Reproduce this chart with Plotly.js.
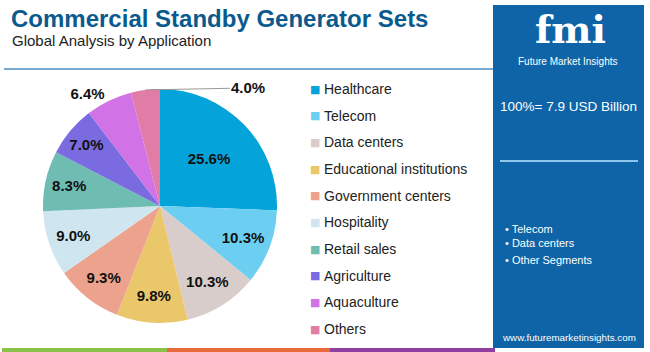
<!DOCTYPE html>
<html>
<head>
<meta charset="utf-8">
<script src="https://cdn.plot.ly/plotly-3.0.1.min.js"></script>
<style>
html,body{margin:0;padding:0;background:#fff;}
#chart{width:650px;height:352px;}
</style>
</head>
<body>
<div id="chart"></div>
<script>
// ---- data ----
const categories = ["Healthcare","Telecom","Data centers","Educational institutions","Government centers","Hospitality","Retail sales","Agriculture","Aquaculture","Others"];
const shares = [25.6, 10.3, 10.3, 9.8, 9.3, 9.0, 8.3, 7.0, 6.4, 4.0];
const colors = ["#04a3d9","#6ccff2","#d8cdca","#ebc76c","#eca28c","#cfe6f0","#6fbcb2","#7a6be0","#d172e6","#e17ca6"];
const totalLabel = "100%= 7.9 USD Billion";
const keySegments = ["Telecom","Data centers","Other Segments"];

const W = 650, H = 352;
const px = x => x / W;
const py = y => 1 - y / H;

// pie geometry (pixels)
const cx = 160, cy = 206, R = 117;

const textpos = shares.map((v, i) => i === shares.length - 1 ? "none" : (i === shares.length - 2 ? "outside" : "inside"));
const labelFont = {family: "Arial, Liberation Sans, sans-serif", size: 15, color: "#111", weight: "bold"};

const trace = {
  type: "pie",
  labels: categories,
  values: shares,
  sort: false,
  direction: "clockwise",
  rotation: 0,
  marker: {colors: colors, line: {color: "#ffffff", width: 0}},
  texttemplate: shares.map(v => v.toFixed(1) + "%"),
  textposition: textpos,
  insidetextorientation: "horizontal",
  textfont: labelFont,
  outsidetextfont: labelFont,
  showlegend: false,
  hoverinfo: "label+percent",
  domain: {x: [px(cx - R), px(cx + R)], y: [py(cy + R), py(cy - R)]}
};

const annotations = [];
const shapes = [];

// subtitle
annotations.push({xref: "paper", yref: "paper", x: px(10), y: py(40), xanchor: "left", yanchor: "middle",
  text: "Global Analysis by Application", showarrow: false,
  font: {family: "Arial, Liberation Sans, sans-serif", size: 15, color: "#222"}});

// outside label with leader line for last slice (position derived from data)
const total = shares.reduce((a, b) => a + b, 0);
let cum = 0;
shares.forEach((v, i) => {
  const mid = (cum + v / 2) / total;
  cum += v;
  if (i === shares.length - 1) {
    const ang = mid * 2 * Math.PI;
    const ex = cx + R * Math.sin(ang);
    const ey = cy - R * Math.cos(ang);
    annotations.push({xref: "paper", yref: "paper", x: px(ex), y: py(ey),
      text: "<b>" + v.toFixed(1) + "%</b>", showarrow: true, arrowhead: 0, arrowwidth: 1, arrowcolor: "#999",
      ax: 103, ay: -2, standoff: 0,
      font: labelFont});
  }
});

// legend (built from data)
categories.forEach((c, i) => {
  const y = 89 + i * 26.67;
  annotations.push({xref: "paper", yref: "paper", x: px(315), y: py(y), xanchor: "center", yanchor: "middle",
    text: "■", showarrow: false, font: {family: "DejaVu Sans", size: 11, color: colors[i]}});
  annotations.push({xref: "paper", yref: "paper", x: px(322), y: py(y), xanchor: "left", yanchor: "middle",
    text: c, showarrow: false, font: {family: "Arial, Liberation Sans, sans-serif", size: 14, color: "#222"}});
});

// divider line under title
shapes.push({type: "line", xref: "paper", yref: "paper", x0: px(4), x1: px(493), y0: py(69), y1: py(69),
  line: {color: "#4a8fc2", width: 1.5}});

// right panel
shapes.push({type: "rect", xref: "paper", yref: "paper", x0: px(493), x1: px(644), y0: py(348), y1: py(5),
  fillcolor: "#0e64a6", line: {width: 0}, layer: "below"});
shapes.push({type: "line", xref: "paper", yref: "paper", x0: px(500), x1: px(638), y0: py(161), y1: py(161),
  line: {color: "#8fc6ec", width: 2}});

// bottom strip
shapes.push({type: "rect", xref: "paper", yref: "paper", x0: px(2), x1: px(167), y0: py(352), y1: py(348), fillcolor: "#8bc34a", line: {width: 0}});
shapes.push({type: "rect", xref: "paper", yref: "paper", x0: px(167), x1: px(330), y0: py(352), y1: py(348), fillcolor: "#e8693a", line: {width: 0}});
shapes.push({type: "rect", xref: "paper", yref: "paper", x0: px(330), x1: px(495), y0: py(352), y1: py(348), fillcolor: "#8e3fa0", line: {width: 0}});

// panel texts
annotations.push({xref: "paper", yref: "paper", x: px(570), y: py(30), xanchor: "center", yanchor: "middle",
  text: "<b>fmi</b>", showarrow: false, font: {family: "DejaVu Serif", size: 38, color: "#ffffff"}});
annotations.push({xref: "paper", yref: "paper", x: px(567), y: py(61), xanchor: "center", yanchor: "middle",
  text: "Future Market Insights", showarrow: false, font: {family: "Arial, Liberation Sans, sans-serif", size: 10, color: "#ffffff"}});
annotations.push({xref: "paper", yref: "paper", x: px(568), y: py(106), xanchor: "center", yanchor: "middle",
  text: totalLabel, showarrow: false, font: {family: "Arial, Liberation Sans, sans-serif", size: 13.5, color: "#ffffff"}});
keySegments.forEach((s, i) => {
  const y = [229, 243, 260][i];
  annotations.push({xref: "paper", yref: "paper", x: px(503), y: py(y), xanchor: "left", yanchor: "middle",
    text: "• " + s, showarrow: false, font: {family: "Arial, Liberation Sans, sans-serif", size: 11, color: "#ffffff"}});
});
annotations.push({xref: "paper", yref: "paper", x: px(569), y: py(337), xanchor: "center", yanchor: "middle",
  text: "www.futuremarketinsights.com", showarrow: false, font: {family: "Arial, Liberation Sans, sans-serif", size: 9.8, color: "#ffffff"}});

const layout = {
  width: W, height: H,
  margin: {l: 0, r: 0, t: 0, b: 0},
  paper_bgcolor: "#ffffff",
  plot_bgcolor: "#ffffff",
  title: {text: "<b>Commercial Standby Generator Sets</b>", x: px(11), xanchor: "left", xref: "paper",
    y: py(19), yanchor: "middle", yref: "paper",
    font: {family: "Arial, Liberation Sans, sans-serif", size: 24, color: "#0b5a8e"}},
  showlegend: false,
  annotations: annotations,
  shapes: shapes
};

Plotly.newPlot("chart", [trace], layout, {displayModeBar: false, staticPlot: true});
</script>
</body>
</html>
